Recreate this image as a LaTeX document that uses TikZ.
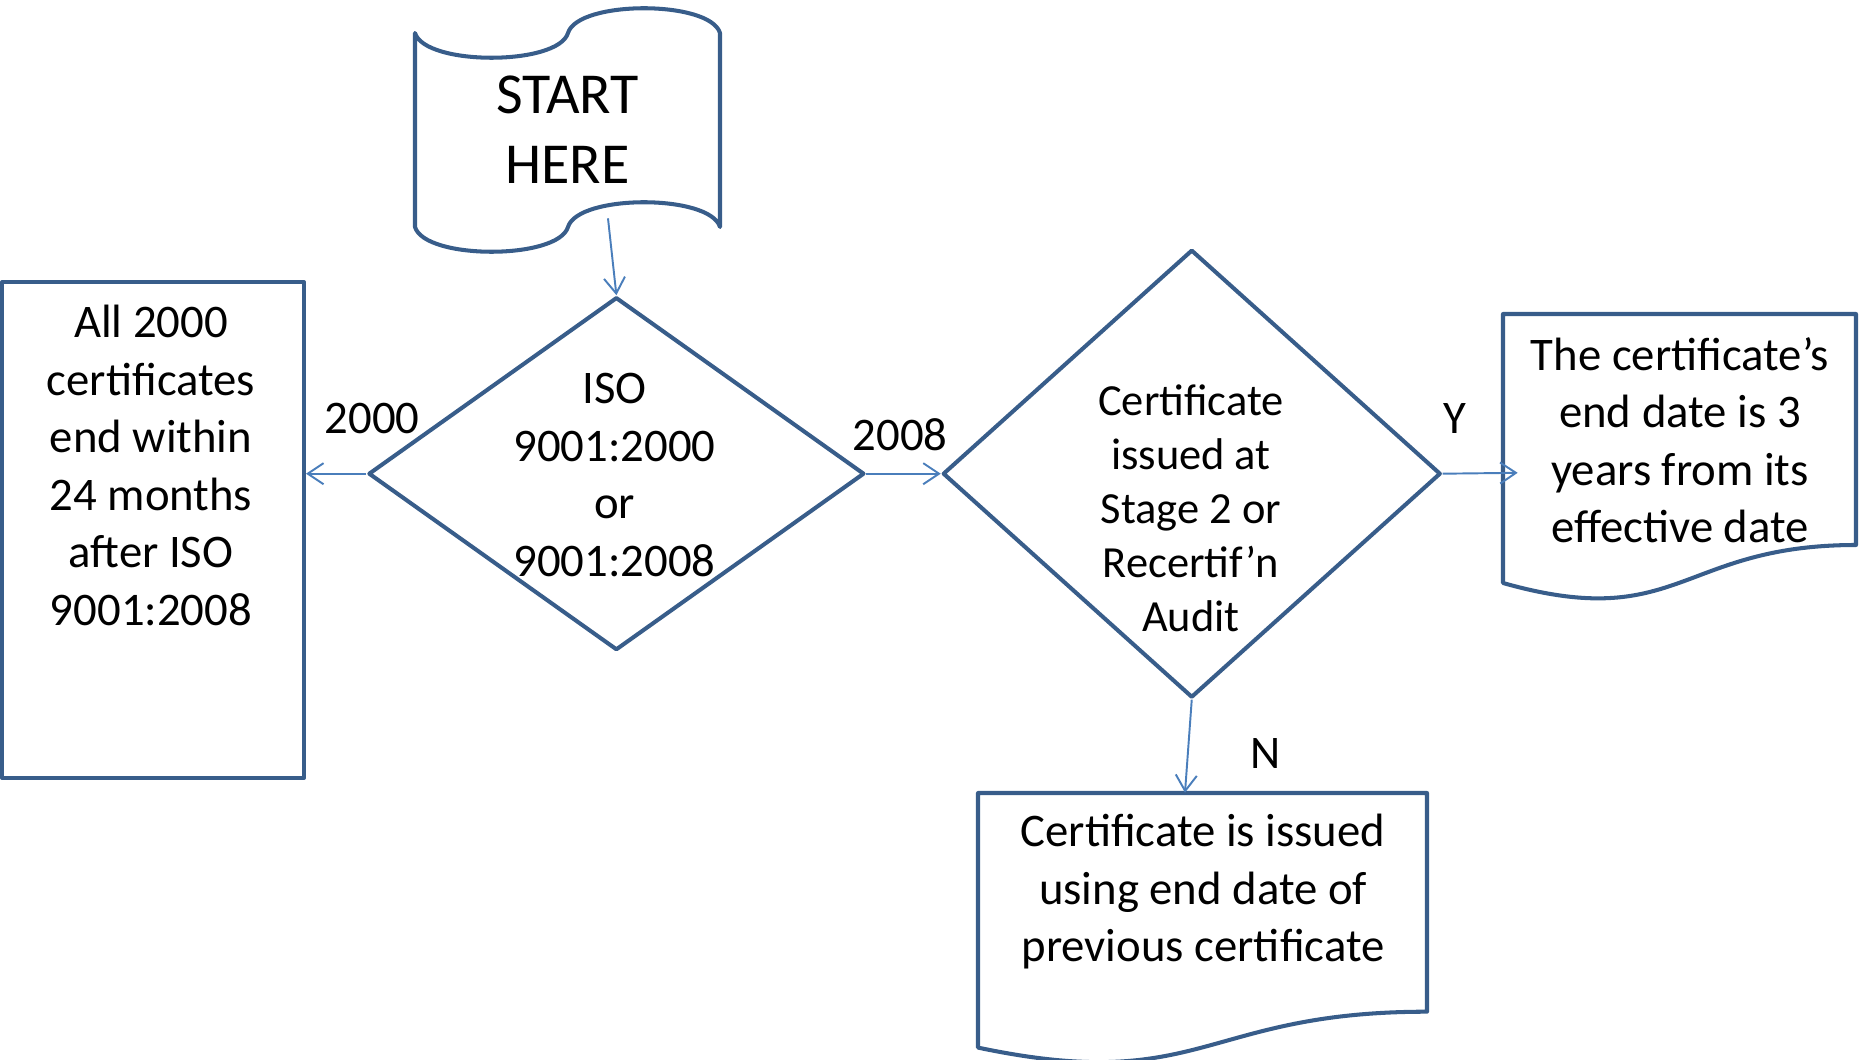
\documentclass[tikz,border=0pt]{standalone}
\usepackage{fontspec}
\setmainfont{Carlito}
\usetikzlibrary{arrows.meta, shapes.geometric, positioning}
\definecolor{boxblue}{HTML}{385D8A}
\definecolor{linkblue}{HTML}{4A7EBB}

\begin{document}
\begin{tikzpicture}[x=0.02cm, y=-0.02cm,
		box/.style={draw=boxblue, line width=2.3pt, line join=round},
		diam/.style={box, shape=diamond, inner sep=0pt},
		txt/.style={align=center, font=\fontsize{26.6}{32.7}\selectfont},
		link/.style={draw=linkblue, line width=1.1pt, -{Straight Barb[length=9pt, width=12pt]}}]
		\useasboundingbox (0,0) rectangle (1864,1060);
		% start tape
		\draw[box] (415,227) -- (415,33) .. controls (425,66) and (558,66) .. (568,33) .. controls (578,0) and (710,0) .. (720,33) -- (720,227) .. controls (710,194) and (578,194) .. (568,227) .. controls (558,260) and (425,260) .. (415,227) -- cycle;
		\node[txt, font=\fontsize{33}{40}\selectfont, minimum width=6.1cm, minimum height=3.88cm] (start) at (567.5,130) {START\\HERE};
		% decisions
		\node[diam, minimum width=9.92cm, minimum height=7.06cm] (iso) at (616.4,473.7) {};
		\node[txt] (isotext) at (614.6,475) {ISO\\9001:2000\\or\\9001:2008};
		\node[diam, minimum width=9.96cm, minimum height=8.96cm] (stage) at (1191.75,473.7) {};
		\node[txt, font=\fontsize{25.3}{30.8}\selectfont] (stagetext) at (1191,508.2) {Certificate\\issued at\\Stage 2 or\\Recertif’n\\Audit};
		% left box
		\node[box, minimum width=6.04cm, minimum height=9.92cm] (old) at (153,530) {};
		\node[txt] (oldtext) at (151,465.4) {All 2000\\certificates\\end within\\24 months\\after ISO\\9001:2008};
		% documents
		\node[minimum width=7.06cm, minimum height=6.36cm] (yes) at (1679.5,473) {};
		\draw[box] (1503,583) -- (1503,314) -- (1856,314) -- (1856,545) .. controls (1679.5,545) and (1679.5,633) .. (1503,583) -- cycle;
		\node[txt] (yestext) at (1680,440.3) {The certificate’s\\end date is 3\\years from its\\effective date};
		\node[minimum width=8.98cm, minimum height=5.08cm] (no) at (1202.5,920) {};
		\draw[box] (978,1047.6) -- (978,793) -- (1427,793) -- (1427,1011.7) .. controls (1202.5,1011.7) and (1202.5,1094.9) .. (978,1047.6) -- cycle;
		\node[txt] (notext) at (1203,891.6) {Certificate is issued\\using end date of\\previous certificate};
		% connectors
		\draw[link] ([xshift=0.81cm, yshift=0.18cm]start.south) -- (iso.north);
		\draw[link] (iso.west) -- (iso.west -| old.east);
		\draw[link] (iso.east) -- (stage.west);
		\draw[link, shorten >=-0.3cm] (stage.east) -- (yes.west);
		\draw[link] (stage.south) -- ([xshift=-0.35cm]no.north);
		% labels
		\node[txt] (l2000) at (372,418.5) {2000};
		\node[txt] (l2008) at (900,435) {2008};
		\node[txt] (ly) at (1455,418.5) {Y};
		\node[txt] (ln) at (1266,753.7) {N};
	\end{tikzpicture}
\end{document}
